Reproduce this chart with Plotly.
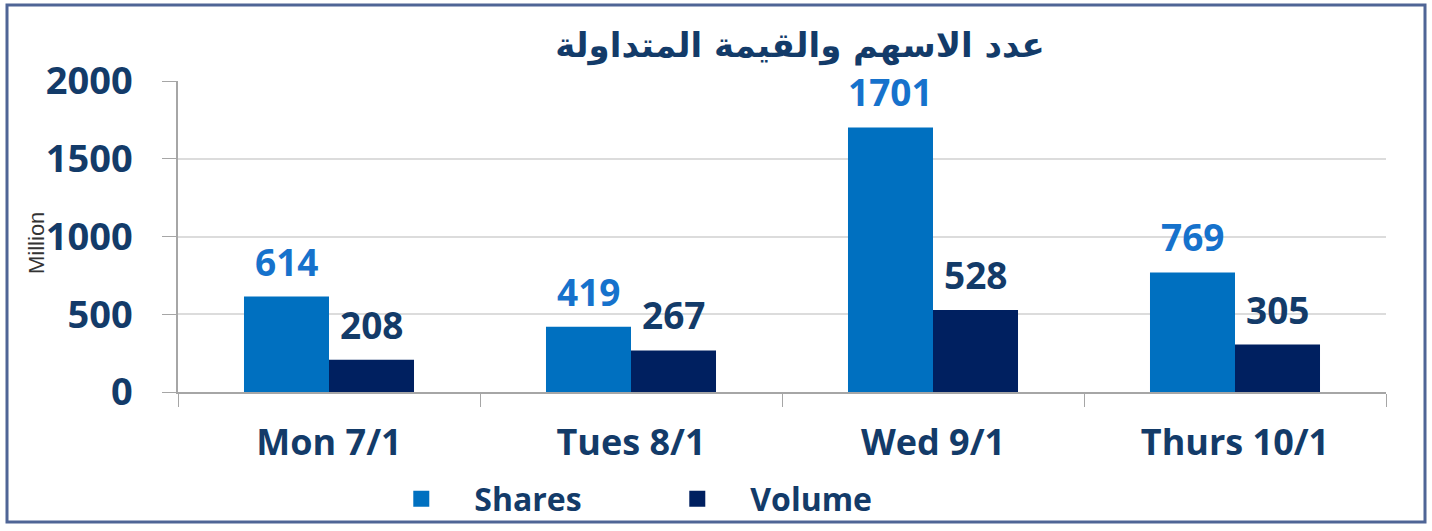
import plotly.graph_objects as go

categories = ["Mon 7/1", "Tues 8/1", "Wed 9/1", "Thurs 10/1"]
shares = [614, 419, 1701, 769]
volume = [208, 267, 528, 305]
y_ticks = [0, 500, 1000, 1500, 2000]
title_text = "عدد الاسهم والقيمة المتداولة"

SHARES_COLOR = "#0070C0"
VOLUME_COLOR = "#002060"
TEXT_NAVY = "#133B69"

fig = go.Figure()
fig.add_trace(go.Bar(name="Shares", x=categories, y=shares, showlegend=False,
                     marker=dict(color=SHARES_COLOR, line=dict(width=0))))
fig.add_trace(go.Bar(name="Volume", x=categories, y=volume, showlegend=False,
                     marker=dict(color=VOLUME_COLOR, line=dict(width=0))))
# legend entries (larger square swatches)
fig.add_trace(go.Scatter(name="Shares", x=[None], y=[None], mode="markers",
                         marker=dict(symbol="square", size=16, color=SHARES_COLOR)))
fig.add_trace(go.Scatter(name="Volume", x=[None], y=[None], mode="markers",
                         marker=dict(symbol="square", size=16, color=VOLUME_COLOR)))

half = (1 - 0.437) / 4
annotations = []
for i, v in enumerate(shares):
    annotations.append(dict(x=i - half, y=v, xref="x", yref="y", text=str(v),
                            showarrow=False, yanchor="bottom", yshift=8,
                            font=dict(family="Open Sans", size=37, color="#1672CC", weight="bold")))
for i, v in enumerate(volume):
    annotations.append(dict(x=i + half, y=v, xref="x", yref="y", text=str(v),
                            showarrow=False, yanchor="bottom", yshift=8,
                            font=dict(family="Open Sans", size=37, color=TEXT_NAVY, weight="bold")))
annotations.append(dict(x=(36 - 178) / 1208, y=(392 - 243) / 311, xref="paper", yref="paper",
                        text="Million", showarrow=False, textangle=-90,
                        xanchor="center", yanchor="middle",
                        font=dict(family="Liberation Sans", size=22, color="#333333")))

fig.update_layout(
    width=1432, height=531,
    margin=dict(l=178, r=46, t=81, b=139, autoexpand=False),
    paper_bgcolor="white", plot_bgcolor="white",
    barmode="group", bargap=0.437, bargroupgap=0,
    title=dict(text=title_text, x=800 / 1432, xanchor="center", y=1 - 45 / 531, yanchor="middle",
               font=dict(family="DejaVu Sans", size=34, color=TEXT_NAVY, weight="bold")),
    xaxis=dict(showline=True, linecolor="#A6A6A6", linewidth=1.5,
               ticks="outside", tickson="boundaries", ticklen=13, tickcolor="#A6A6A6",
               tickfont=dict(family="Open Sans", size=36, color=TEXT_NAVY, weight="bold"),
               ticklabelstandoff=18),
    yaxis=dict(range=[0, 2000], tickvals=y_ticks, showline=True, linecolor="#A6A6A6",
               linewidth=1.5, ticks="outside", ticklen=14, tickcolor="#A6A6A6",
               showgrid=True, gridcolor="#DCDCDC", gridwidth=1.5, zeroline=False,
               tickfont=dict(family="Open Sans", size=38, color=TEXT_NAVY, weight="bold"),
               ticklabelstandoff=22),
    legend=dict(orientation="h", x=0.386, xanchor="center", y=(392 - 499) / 311, yanchor="middle",
                font=dict(family="Open Sans", size=32, color=TEXT_NAVY, weight="bold"),
                itemwidth=96, entrywidth=165, bgcolor="rgba(0,0,0,0)"),
    annotations=annotations,
    shapes=[dict(type="rect", xref="paper", yref="paper",
                 x0=(7 - 178) / 1208, x1=(1425 - 178) / 1208,
                 y0=(392 - 522) / 311, y1=(392 - 5) / 311,
                 line=dict(color="#4F6596", width=3), layer="below")],
)

fig.write_html("out.html", config={"displayModeBar": False},
               post_script="document.body.style.margin='0px';document.body.style.overflow='hidden';")
